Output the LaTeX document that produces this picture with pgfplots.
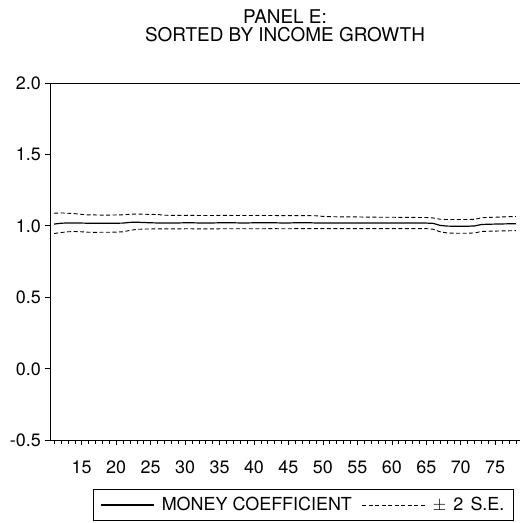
\documentclass[border=0pt]{standalone}
\usepackage{fontspec}
\setmainfont{TeX Gyre Heros}
\usepackage{pgfplots}
\pgfplotsset{compat=1.18}
\usepackage{pgfplotstable}
\pgfplotsset{
  legsolid/.style={legend image code/.code={\draw[##1] (0bp,0bp) -- (53bp,0bp);}},
  legdash/.style={legend image code/.code={\draw[##1] (0bp,0bp) -- (63bp,0bp);}},
}

\pgfplotstableread{
x y
11 1.012
12 1.018
13 1.020
14 1.020
15 1.019
16 1.018
17 1.018
18 1.018
19 1.018
20 1.018
21 1.019
22 1.024
23 1.025
24 1.023
25 1.021
26 1.020
27 1.020
28 1.020
29 1.020
30 1.021
31 1.021
32 1.020
33 1.020
34 1.020
35 1.021
36 1.021
37 1.021
38 1.020
39 1.020
40 1.021
41 1.021
42 1.021
43 1.021
44 1.020
45 1.020
46 1.021
47 1.021
48 1.021
49 1.020
50 1.020
51 1.020
52 1.020
53 1.020
54 1.020
55 1.020
56 1.020
57 1.020
58 1.020
59 1.020
60 1.020
61 1.020
62 1.020
63 1.020
64 1.020
65 1.019
66 1.017
67 1.003
68 0.998
69 0.997
70 0.997
71 0.997
72 0.999
73 1.009
74 1.011
75 1.012
76 1.013
77 1.014
78 1.015
}\coeftab

\pgfplotstableread{
x y
11 1.088
12 1.090
13 1.088
14 1.085
15 1.080
16 1.076
17 1.076
18 1.075
19 1.075
20 1.076
21 1.077
22 1.081
23 1.082
24 1.081
25 1.080
26 1.079
27 1.074
28 1.073
29 1.073
30 1.073
31 1.073
32 1.072
33 1.072
34 1.072
35 1.073
36 1.073
37 1.072
38 1.072
39 1.072
40 1.072
41 1.072
42 1.072
43 1.072
44 1.071
45 1.071
46 1.071
47 1.071
48 1.071
49 1.070
50 1.066
51 1.064
52 1.063
53 1.063
54 1.062
55 1.062
56 1.061
57 1.061
58 1.060
59 1.060
60 1.060
61 1.059
62 1.059
63 1.059
64 1.058
65 1.058
66 1.055
67 1.046
68 1.044
69 1.044
70 1.044
71 1.044
72 1.045
73 1.056
74 1.059
75 1.060
76 1.062
77 1.064
78 1.065
}\uptab

\pgfplotstableread{
x y
11 0.946
12 0.953
13 0.958
14 0.960
15 0.958
16 0.955
17 0.954
18 0.955
19 0.955
20 0.956
21 0.958
22 0.968
23 0.975
24 0.977
25 0.978
26 0.978
27 0.978
28 0.978
29 0.978
30 0.979
31 0.979
32 0.978
33 0.978
34 0.978
35 0.979
36 0.979
37 0.979
38 0.979
39 0.979
40 0.979
41 0.979
42 0.980
43 0.980
44 0.979
45 0.979
46 0.980
47 0.980
48 0.980
49 0.980
50 0.980
51 0.980
52 0.980
53 0.980
54 0.980
55 0.980
56 0.980
57 0.980
58 0.980
59 0.980
60 0.980
61 0.980
62 0.980
63 0.980
64 0.980
65 0.980
66 0.976
67 0.958
68 0.950
69 0.948
70 0.948
71 0.948
72 0.950
73 0.960
74 0.962
75 0.963
76 0.964
77 0.965
78 0.966
}\lowtab

\begin{document}
\begin{tikzpicture}
\useasboundingbox (-50bp,-83bp) rectangle (474bp,440bp);
\begin{axis}[
  scale only axis,
  width=470bp, height=357bp,
  xmin=10.4, xmax=78.6,
  ymin=-0.5, ymax=2.0,
  xtick={15,20,...,75},
  minor xtick={11,...,78},
  ytick={-0.5,0,0.5,1,1.5,2},
  yticklabels={-0.5,0.0,0.5,1.0,1.5,2.0},
  xticklabels={15,20,25,30,35,40,45,50,55,60,65,70,75},
  xtick pos=lower, ytick pos=left,
  tick align=outside,
  major tick length=5bp,
  minor tick length=3.5bp,
  every tick/.style={black, line width=0.6bp},
  axis line style={draw=none},
  xticklabel style={font=\fontsize{18}{18}\selectfont, anchor=base, inner sep=0pt, yshift=-28.5bp},
  yticklabel style={font=\fontsize{18}{18}\selectfont, anchor=base east, inner sep=0pt, yshift=-6.4bp, xshift=-4bp},
  title={PANEL E:\\SORTED BY INCOME GROWTH},
  title style={font=\fontsize{19}{18}\selectfont, align=center, at={(axis description cs:0.5,1)}, anchor=south, inner sep=0pt, yshift=35bp},
  legend columns=2,
  legend style={at={(axis description cs:0.5394,-0.182)}, anchor=center,
    draw=black, line width=0.8bp, font=\fontsize{18}{18}\selectfont,
    inner xsep=7bp, inner ysep=6bp,
    /tikz/every odd column/.append style={column sep=5bp},
    /tikz/every even column/.append style={column sep=8bp}},
]
\draw[black, line width=0.8bp] (rel axis cs:0,1) -- (rel axis cs:0,0) -- (rel axis cs:1,0);
\draw[black, line width=0.6bp] (rel axis cs:0,1) -- (rel axis cs:1,1);
\addplot[black, line width=1.2bp, legsolid] table {\coeftab};
\addlegendentry{MONEY COEFFICIENT}
\addplot[black, line width=0.9bp, dash pattern=on 4bp off 2.5bp, legdash] table {\uptab};
\addlegendentry{$\pm$\hspace{0.4em}2\hspace{0.4em}S.E.}
\addplot[black, line width=0.9bp, dash pattern=on 4bp off 2.5bp, forget plot] table {\lowtab};
\end{axis}
\end{tikzpicture}
\end{document}
